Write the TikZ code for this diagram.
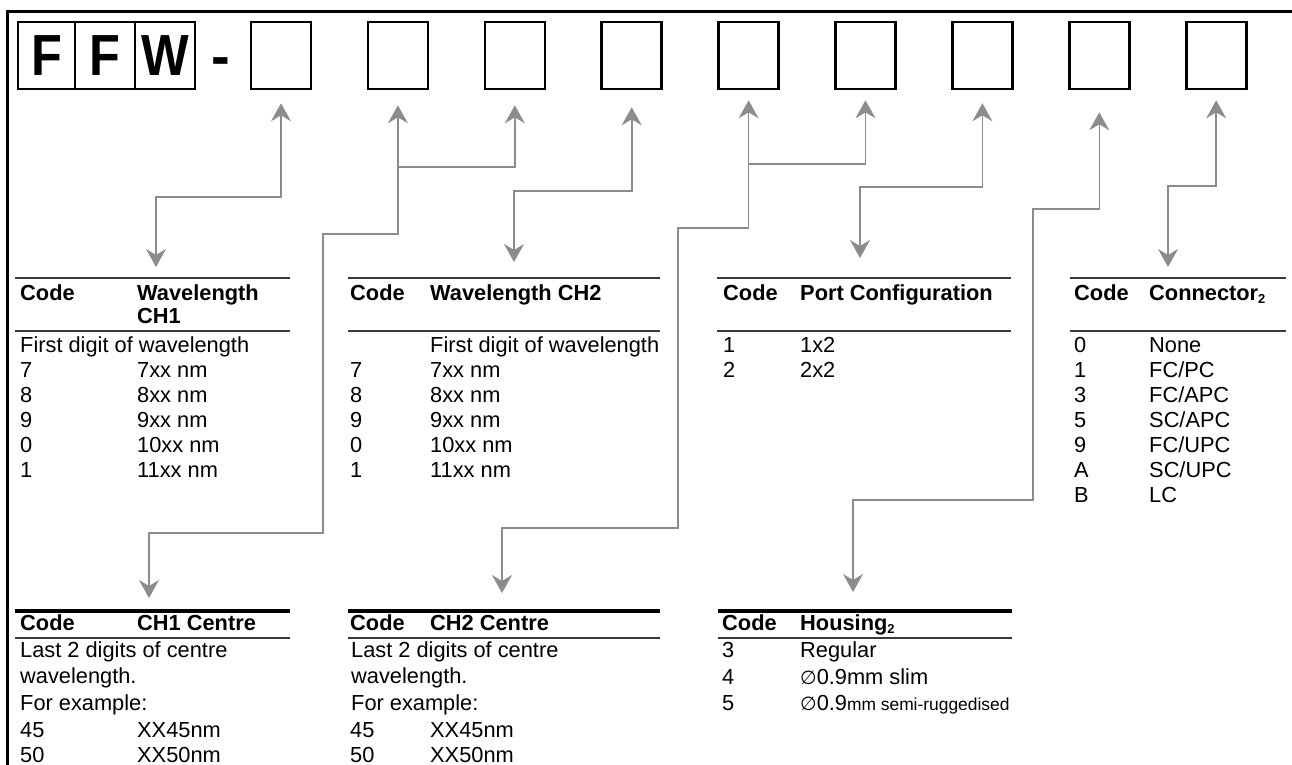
\documentclass[tikz,border=0pt]{standalone}
\usepackage{fontspec}
\usepackage{graphicx}
\setmainfont{Liberation Sans}
\newfontfamily\symfont{DejaVu Sans}
\usetikzlibrary{arrows.meta}

\definecolor{linegray}{HTML}{8C8C8C}
\definecolor{rulegray}{HTML}{3A3A3A}
\newcommand\tabfont{\fontsize{21.8}{25}\selectfont}
\newcommand\lowtwo{\raisebox{-3pt}{\fontsize{13}{13}\selectfont 2}}
\newcommand\dia{{\symfont\fontsize{19}{19}\selectfont ∅}}

\tikzset{
  cell/.style={draw, line width=2.2pt, minimum height=67pt, inner sep=0pt,
    font=\bfseries\fontsize{58}{58}\selectfont},
  digit/.style={draw, line width=2.6pt, minimum width=60pt, minimum height=67pt, inner sep=0pt},
  conn/.style={linegray, line width=1.6pt, >={Stealth[length=18pt,width=20pt,inset=6pt]}},
  toprule/.style={rulegray, line width=2.4pt},
  midrule/.style={rulegray, line width=2pt},
  boldrule/.style={black, line width=3.4pt},
  txt/.style={anchor=base west, inner sep=0pt, font=\tabfont},
  head/.style={txt, font=\tabfont\bfseries},
}

\begin{document}
\begin{tikzpicture}[x=1pt,y=-1pt]
  \useasboundingbox (0,0) rectangle (1292,764);

  % frame
  \draw[line width=3pt] (7,770) -- (7,11) -- (1300,11);

  % part number
  \node[cell, minimum width=57pt] (f1) at (46.5,55.5) {\scalebox{0.87}[1]{F}};
  \node[cell, minimum width=60pt] (f2) at (105,55.5) {\scalebox{0.87}[1]{F}};
  \node[cell, minimum width=60pt] (f3) at (165,55.5) {\scalebox{0.87}[1]{W}};
  \node[anchor=base, inner sep=0pt, font=\bfseries\fontsize{56}{56}\selectfont] (dash) at (221,75) {-};
  \foreach \i in {1,...,9}
    \node[digit] (b\i) at ({281+116.9*(\i-1)},55.5) {};

  % table anchors
  \coordinate (t1) at (156,278);
  \coordinate (t2) at (514,278);
  \coordinate (t3) at (860,278);
  \coordinate (t4) at (1168,278);
  \coordinate (t5) at (149,611);
  \coordinate (t6) at (502,611);
  \coordinate (t7) at (853,611);

  % connectors
  \draw[conn,<->] ([yshift=-13pt]b1.south) |- (156,197) -- ([yshift=11pt]t1);
  \draw[conn,<->] ([yshift=-15pt]b2.south) |- (323,234) |- (149,533) -- ([yshift=13pt]t5);
  \draw[conn,<-] ([yshift=-15pt]b3.south) |- (397.9,167);
  \draw[conn,<->] ([yshift=-17pt]b4.south) |- (514,191) -- ([yshift=16pt]t2);
  \draw[conn,<->] ([yshift=-10pt]b5.south) |- (678,228) |- (502,528) -- ([yshift=18pt]t6);
  \draw[conn,<-] ([yshift=-10pt]b6.south) |- (748.6,164);
  \draw[conn,<->] ([yshift=-13pt]b7.south) |- (860,187) -- ([yshift=20pt]t3);
  \draw[conn,<->] ([yshift=-22pt]b8.south) |- (1033,209) |- (853,500) -- ([yshift=19pt]t7);
  \draw[conn,<->] ([yshift=-10pt]b9.south) |- (1168,186) -- ([yshift=11pt]t4);

  % rules
  \foreach \l/\r in {15/290, 348/660, 717/1011, 1070/1286} {
    \draw[toprule] (\l,278) -- (\r,278);
    \draw[midrule] (\l,331) -- (\r,331);
  }
  \foreach \l/\r in {15/290, 348/660, 718/1012} {
    \draw[boldrule] (\l,611) -- (\r,611);
    \draw[midrule] (\l,638) -- (\r,638);
  }

  % Wavelength CH1
  \node[head] (h1c) at (20,300) {Code};
  \node[head] (h1a) at (137,300) {Wavelength};
  \node[head] (h1b) at (137,323) {CH1};
  \node[txt] (r1f) at (20,352) {First digit of wavelength};
  \foreach \c/\v [count=\k] in {7/7xx nm, 8/8xx nm, 9/9xx nm, 0/10xx nm, 1/11xx nm} {
    \node[txt] (r1c\k) at (20,352+25*\k) {\c};
    \node[txt] (r1v\k) at (137,352+25*\k) {\v};
  }

  % Wavelength CH2
  \node[head] (h2c) at (350,300) {Code};
  \node[head] (h2a) at (430,300) {Wavelength CH2};
  \node[txt] (r2f) at (430,352) {First digit of wavelength};
  \foreach \c/\v [count=\k] in {7/7xx nm, 8/8xx nm, 9/9xx nm, 0/10xx nm, 1/11xx nm} {
    \node[txt] (r2c\k) at (350,352+25*\k) {\c};
    \node[txt] (r2v\k) at (430,352+25*\k) {\v};
  }

  % Port configuration
  \node[head] (h3c) at (723,300) {Code};
  \node[head] (h3a) at (800,300) {Port Configuration};
  \foreach \c/\v [count=\k] in {1/1x2, 2/2x2} {
    \node[txt] (r3c\k) at (723,327+25*\k) {\c};
    \node[txt] (r3v\k) at (800,327+25*\k) {\v};
  }

  % Connector
  \node[head] (h4c) at (1074,300) {Code};
  \node[head] (h4a) at (1149,300) {Connector\lowtwo};
  \foreach \c/\v [count=\k] in {0/None, 1/FC\slash PC, 3/FC\slash APC, 5/SC\slash APC,
                                9/FC\slash UPC, A/SC\slash UPC, B/LC} {
    \node[txt] (r4c\k) at (1074,327+25*\k) {\c};
    \node[txt] (r4v\k) at (1149,327+25*\k) {\v};
  }

  % CH1 centre
  \node[head] (h5c) at (20,630) {Code};
  \node[head] (h5a) at (137,630) {CH1 Centre};
  \node[txt] (r5a) at (20,657) {Last 2 digits of centre};
  \node[txt] (r5b) at (20,683) {wavelength.};
  \node[txt] (r5e) at (20,710) {For example:};
  \node[txt] (r5c1) at (20,737) {45};
  \node[txt] (r5v1) at (137,737) {XX45nm};
  \node[txt] (r5c2) at (20,762) {50};
  \node[txt] (r5v2) at (137,762) {XX50nm};

  % CH2 centre
  \node[head] (h6c) at (350,630) {Code};
  \node[head] (h6a) at (430,630) {CH2 Centre};
  \node[txt] (r6a) at (351,657) {Last 2 digits of centre};
  \node[txt] (r6b) at (351,683) {wavelength.};
  \node[txt] (r6e) at (351,710) {For example:};
  \node[txt] (r6c1) at (350,737) {45};
  \node[txt] (r6v1) at (430,737) {XX45nm};
  \node[txt] (r6c2) at (350,762) {50};
  \node[txt] (r6v2) at (430,762) {XX50nm};

  % Housing
  \node[head] (h7c) at (722,630) {Code};
  \node[head] (h7a) at (800,630) {Housing\lowtwo};
  \node[txt] (r7c1) at (722,657) {3};
  \node[txt] (r7v1) at (800,657) {Regular};
  \node[txt] (r7c2) at (722,684) {4};
  \node[txt] (r7v2) at (800,684) {\dia0.9mm slim};
  \node[txt] (r7c3) at (722,710) {5};
  \node[txt] (r7v3) at (800,710) {\dia0.9{\fontsize{17.4}{20}\selectfont mm semi-ruggedised}};
\end{tikzpicture}
\end{document}
